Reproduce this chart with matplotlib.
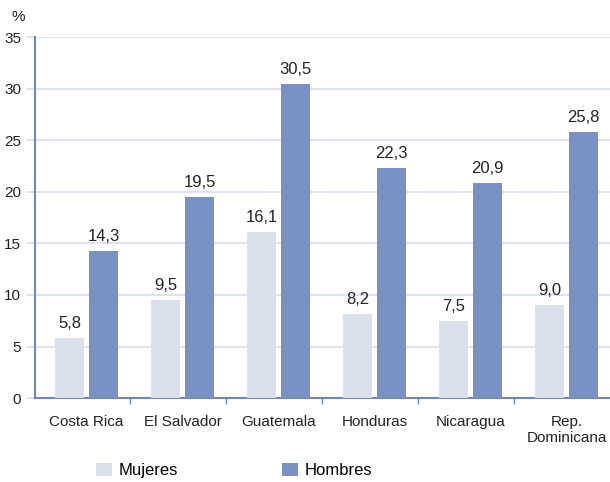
import numpy as np
import matplotlib.pyplot as plt

plt.rcParams['font.family'] = ['Liberation Sans', 'DejaVu Sans']

countries = ["Costa Rica", "El Salvador", "Guatemala", "Honduras", "Nicaragua", "Rep.\nDominicana"]
mujeres = [5.8, 9.5, 16.1, 8.2, 7.5, 9.0]
hombres = [14.3, 19.5, 30.5, 22.3, 20.9, 25.8]

c_muj = "#d9e0ec"
c_hom = "#7890c2"
c_axis = "#6f86bf"
c_grid = "#dde4f0"

fig = plt.figure(figsize=(6.1, 4.82), dpi=100)
ax = fig.add_axes([0.0574, 0.174, 0.9426, 0.749])

x = np.arange(len(countries))
w = 0.31
b1 = ax.bar(x - 0.177, mujeres, w, color=c_muj, label="Mujeres", zorder=3)
b2 = ax.bar(x + 0.177, hombres, w, color=c_hom, label="Hombres", zorder=3)

def fmt(v):
    return f"{v:.1f}".replace(".", ",")

for bars, vals in ((b1, mujeres), (b2, hombres)):
    for r, v in zip(bars, vals):
        ax.annotate(fmt(v), (r.get_x() + r.get_width() / 2, v),
                    xytext=(0, 5), textcoords="offset points",
                    ha="center", va="bottom", fontsize=12, color="#222222")

ax.set_xlim(-0.536, 5.453)
ax.set_ylim(0, 35)
ax.set_yticks(np.arange(0, 36, 5))
ax.yaxis.grid(True, color=c_grid, linewidth=1.5, zorder=0)
ax.set_axisbelow(True)

ax.set_xticks(x)
ax.set_xticklabels(countries, fontsize=11, color="#222222")
ax.tick_params(axis="x", length=0, pad=12)
ax.tick_params(axis="y", length=6, color=c_grid, width=1.5, labelsize=11,
               labelcolor="#222222", pad=4)
ax.set_xticks(x[:-1] + 0.45, minor=True)
ax.tick_params(axis="x", which="minor", length=4, color=c_axis, width=1)

for s in ("top", "right"):
    ax.spines[s].set_visible(False)
for s in ("left", "bottom"):
    ax.spines[s].set_color(c_axis)
    ax.spines[s].set_linewidth(1.5)

fig.text(0.03, 0.965, "%", fontsize=11, ha="center", va="center", color="#222222")

fig.legend(handles=[b1, b2], labels=["Mujeres", "Hombres"], loc="center left",
           bbox_to_anchor=(0.133, 0.024), ncol=2, frameon=False, fontsize=12,
           handlelength=0.95, handleheight=0.9, handletextpad=0.42, columnspacing=6.2)

fig.savefig("out.png", dpi=100)
